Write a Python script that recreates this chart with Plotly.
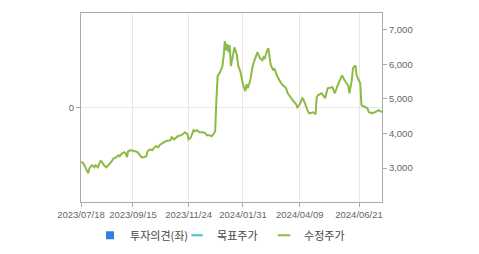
import plotly.graph_objects as go

# trading-day index and adjusted close price (수정주가)
day_idx = [0, 1, 2, 4, 6, 7, 9, 11, 12, 14, 16, 17, 19, 21, 22, 24, 26, 27, 29, 31,
           32, 34, 36, 37, 38, 39, 41, 42, 44, 45, 47, 49, 50, 52, 54, 55, 57, 59, 60, 62,
           64, 65, 68, 70, 74, 75, 77, 79, 80, 83, 86, 88, 89, 91, 93, 94, 96, 98, 99, 101,
           103, 104, 106, 108, 109, 111, 112, 113, 115, 117, 118, 119, 120, 121, 122, 123, 124, 126, 127, 129,
           130, 132, 133, 134, 135, 136, 137, 138, 140, 141, 142, 143, 145, 146, 148, 150, 151, 152, 154, 155,
           156, 157, 159, 160, 162, 164, 165, 167, 169, 170, 171, 174, 175, 178, 179, 181, 183, 184, 186, 188,
           189, 192, 194, 195, 196, 199, 202, 204, 208, 210, 213, 216, 218, 221, 222, 224, 225, 227, 228, 231,
           232, 235, 237, 238, 241, 243, 246, 249]
price = [3165, 3165, 3135, 2990, 2845, 2990, 3080, 3020, 3080, 3020, 3195, 3195, 3080, 3020, 3050, 3135, 3225, 3280, 3310, 3370,
         3340, 3425, 3455, 3425, 3310, 3485, 3515, 3515, 3485, 3485, 3455, 3370, 3310, 3310, 3340, 3485, 3540, 3515, 3570, 3630,
         3600, 3660, 3745, 3775, 3805, 3890, 3830, 3890, 3920, 3950, 4035, 3975, 3830, 3890, 4095, 4065, 4095, 4035, 4035, 4035,
         4005, 3950, 3950, 3920, 3950, 4065, 4965, 5660, 5775, 5950, 6240, 6675, 6410, 6585, 6355, 6555, 5950, 6295, 6500, 6265,
         5975, 5775, 5540, 5425, 5310, 5225, 5425, 5310, 5540, 5775, 5950, 6065, 6265, 6355, 6180, 6120, 6210, 6180, 6410, 6470,
         6210, 5975, 5830, 5890, 5685, 5540, 5485, 5395, 5340, 5280, 5165, 5020, 4965, 4845, 4760, 4845, 5020, 4990, 4790, 4615,
         4585, 4615, 4555, 5050, 5105, 5165, 5020, 5310, 5340, 5165, 5455, 5685, 5540, 5395, 5165, 5540, 5890, 5975, 5685, 5455,
         4820, 4760, 4730, 4615, 4585, 4615, 4675, 4615]

tick_idx = [0, 43, 89, 134, 181, 230]
tick_labels = ["2023/07/18", "2023/09/15", "2023/11/24", "2024/01/31", "2024/04/09", "2024/06/21"]

right_ticks = [3000, 4000, 5000, 6000, 7000]

BLUE, CYAN, GREEN = "#2f7fdc", "#3ec3cc", "#8cbb45"

fig = go.Figure()
fig.add_trace(go.Scatter(x=[None], y=[None], mode="markers", name="투자의견(좌)",
                         marker=dict(symbol="square", size=8, color=BLUE)))
fig.add_trace(go.Scatter(x=[None], y=[None], mode="markers", name="목표주가",
                         marker=dict(symbol="line-ew-open", size=8, color=CYAN,
                                     line=dict(color=CYAN, width=2))))
fig.add_trace(go.Scatter(x=[None], y=[None], mode="markers", name="수정주가",
                         marker=dict(symbol="line-ew-open", size=9, color=GREEN,
                                     line=dict(color=GREEN, width=2))))
fig.add_trace(go.Scatter(x=day_idx, y=price, mode="lines", name="수정주가", yaxis="y2",
                         showlegend=False, line=dict(color=GREEN, width=2)))

tickfont = dict(family="Liberation Sans, Noto Sans CJK KR", size=9.5, color="#666666")
fig.update_layout(
    width=479, height=254,
    margin=dict(l=81, r=97, t=13, b=52, autoexpand=False),
    paper_bgcolor="white", plot_bgcolor="white",
    font=dict(family="Liberation Sans, Noto Sans CJK KR", size=11, color="#555555"),
    showlegend=True,
    legend=dict(orientation="h", x=0.03, xanchor="left", y=-0.099, yanchor="top",
                font=dict(family="Noto Sans CJK KR", size=11, color="#444444"),
                itemwidth=30, entrywidth=42, entrywidthmode="pixels",
                tracegroupgap=0, bgcolor="rgba(0,0,0,0)"),
    xaxis=dict(range=[0, 249], tickmode="array", tickvals=tick_idx, ticktext=tick_labels,
               showgrid=True, gridcolor="#e8e8e8", gridwidth=1, zeroline=False,
               showline=True, linecolor="#aaaaaa", linewidth=1, mirror=True,
               ticks="outside", ticklen=4, tickcolor="#aaaaaa", tickfont=tickfont),
    yaxis=dict(range=[-1, 1], tickmode="array", tickvals=[0], ticktext=["0"],
               showgrid=True, gridcolor="#e8e8e8", zeroline=False,
               showline=True, linecolor="#aaaaaa", linewidth=1, mirror=True,
               ticks="outside", ticklen=4, tickcolor="#aaaaaa", tickfont=tickfont),
    yaxis2=dict(overlaying="y", side="right", range=[2015, 7490], tickmode="array",
                tickvals=right_ticks, tickformat=",", showgrid=False, zeroline=False,
                showline=True, linecolor="#aaaaaa", linewidth=1,
                ticks="outside", ticklen=4, tickcolor="#aaaaaa", tickfont=tickfont),
)

fig.write_html("out.html")
